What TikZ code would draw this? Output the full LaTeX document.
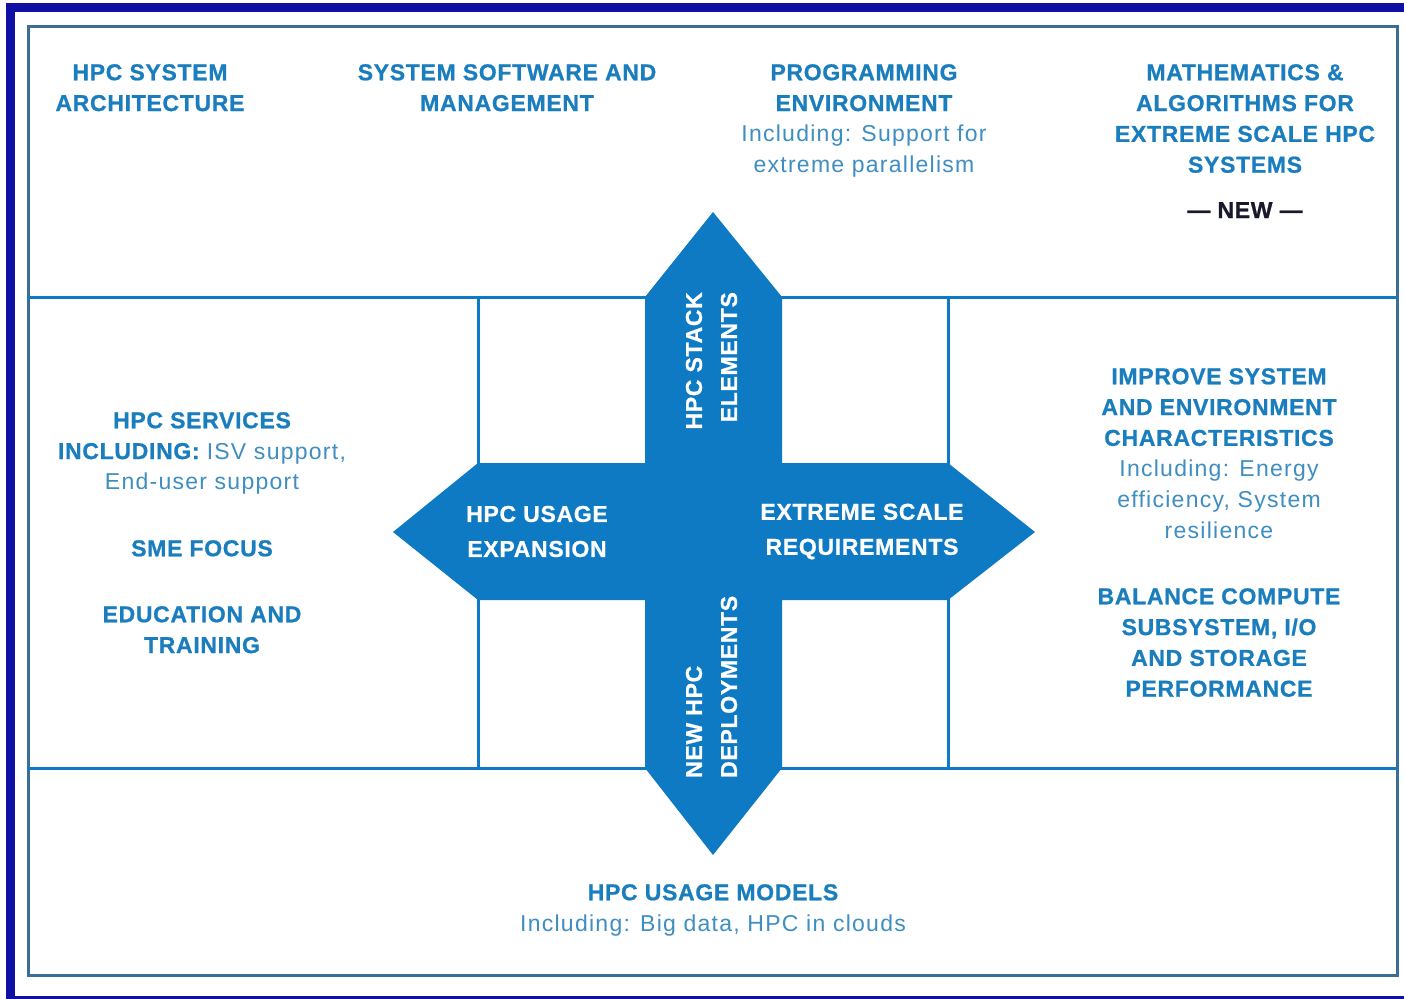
\documentclass[tikz,border=0pt]{standalone}
\usepackage{fontspec}
\newfontfamily\lsf{Liberation Sans}[LetterSpace=3, BoldFeatures={FakeBold=0.8}]
\newfontfamily\lsr{Liberation Sans}[LetterSpace=5.5]
\definecolor{navyc}{RGB}{16,16,165}
\definecolor{framec}{RGB}{58,110,150}
\definecolor{crossc}{RGB}{14,122,196}
\definecolor{headc}{RGB}{26,126,190}
\definecolor{bodyc}{RGB}{62,142,194}
\definecolor{newc}{RGB}{25,25,45}
\newcommand{\bodytxt}{\lsr\mdseries\color{bodyc}}
\begin{document}
\begin{tikzpicture}[x=1pt,y=-1pt,
  hd/.style={font=\lsf\bfseries\fontsize{23}{30.8}\selectfont, text=headc, align=center, inner sep=0pt, anchor=north},
  arrtxt/.style={font=\lsf\bfseries\fontsize{23}{35}\selectfont, text=white, align=center, inner sep=0pt},
  grid/.style={draw=crossc, line width=3pt}]
\useasboundingbox (0,0) rectangle (1404,998);
\fill[white] (0,0) rectangle (1404,998);
% navy outer frame
\draw[navyc, line width=9pt] (10.5,8) rectangle (1412,1000);
% inner frame
\draw[framec, line width=3pt] (28,27) rectangle (1397,975);
% grid lines
\coordinate (hl1a) at (28,297); \coordinate (hl1b) at (1397,297);
\coordinate (hl2a) at (28,768); \coordinate (hl2b) at (1397,768);
\coordinate (vl1a) at (478,297); \coordinate (vl1b) at (478,768);
\coordinate (vl2a) at (948,297); \coordinate (vl2b) at (948,768);
\draw[grid] (hl1a) -- (hl1b);
\draw[grid] (hl2a) -- (hl2b);
\draw[grid] (vl1a) -- (vl1b);
\draw[grid] (vl2a) -- (vl2b);
% cross
\fill[crossc] (713,212) -- (782,297) -- (782,463) -- (948,463) -- (1035,532) -- (948,600) -- (782,600) -- (782,768) -- (713,855) -- (645,768) -- (645,600) -- (478,600) -- (393,532) -- (478,463) -- (645,463) -- (645,297) -- cycle;
% arrow texts
\node[arrtxt] (usage) at (537,531.5) {HPC USAGE\\EXPANSION};
\node[arrtxt] (extreme) at (862,531.5) {EXTREME SCALE\\REQUIREMENTS};
\node[arrtxt, rotate=90, align=right, anchor=east] (stack) at (711.5,292) {HPC STACK\\ELEMENTS};
\node[arrtxt, rotate=90, align=left, anchor=west] (deploy) at (711.5,778) {NEW HPC\\DEPLOYMENTS};
% top row
\node[hd] (arch) at (150,64) {HPC SYSTEM\\ARCHITECTURE};
\node[hd] (soft) at (507,64) {SYSTEM SOFTWARE AND\\MANAGEMENT};
\node[hd] (prog) at (864,64) {PROGRAMMING\\ENVIRONMENT\\\bodytxt Including: Support for\\\bodytxt extreme parallelism};
\node[hd] (math) at (1245,64) {MATHEMATICS \&\\ALGORITHMS FOR\\EXTREME SCALE HPC\\SYSTEMS};
\node[hd, text=newc] (new) at (1245,202) {— NEW —};
% left column
\node[hd] (serv) at (202,412) {HPC SERVICES\\INCLUDING: \bodytxt ISV support,\\\bodytxt End-user support};
\node[hd] (sme) at (202,540) {SME FOCUS};
\node[hd] (edu) at (202,606) {EDUCATION AND\\TRAINING};
% right column
\node[hd] (impr) at (1219,368) {IMPROVE SYSTEM\\AND ENVIRONMENT\\CHARACTERISTICS\\\bodytxt Including: Energy\\\bodytxt efficiency, System\\\bodytxt resilience};
\node[hd] (bal) at (1219,588) {BALANCE COMPUTE\\SUBSYSTEM, I/O\\AND STORAGE\\PERFORMANCE};
% bottom
\node[hd] (models) at (713,884) {HPC USAGE MODELS\\\bodytxt Including: Big data, HPC in clouds};
\end{tikzpicture}
\end{document}
